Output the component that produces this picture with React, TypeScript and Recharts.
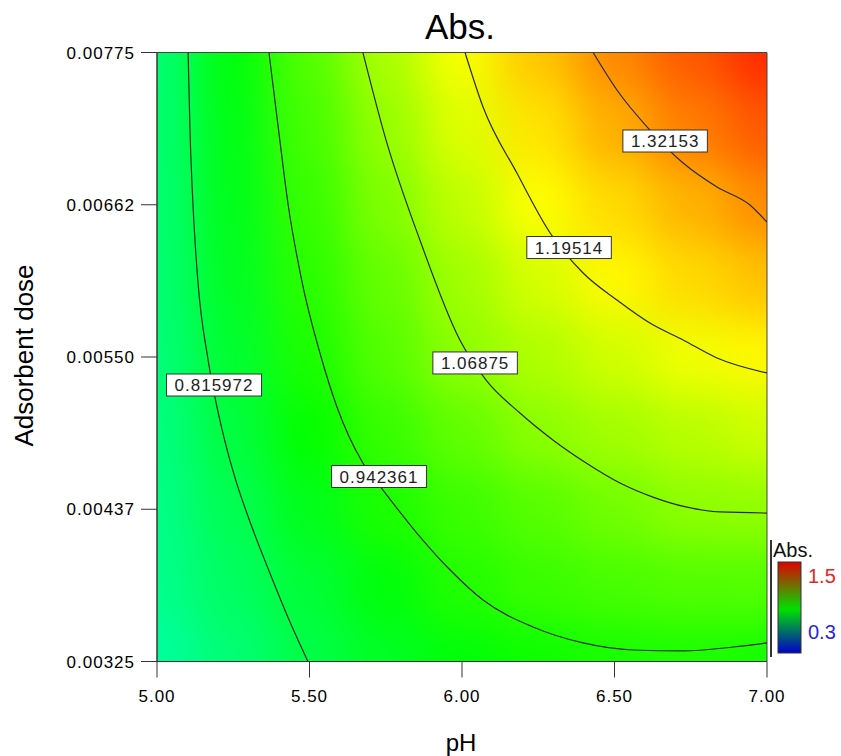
import {
  ComposedChart,
  Line,
  Scatter,
  XAxis,
  YAxis,
  ReferenceArea,
} from "recharts";

// grid nodes of the response surface
const PH_GRID = [5, 5.25, 5.5, 5.75, 6, 6.25, 6.5, 6.75, 7];
const DOSE_GRID = [0.00775, 0.0071875, 0.006625, 0.0060625, 0.0055, 0.0049375, 0.004375, 0.0038125, 0.00325];
// Abs. at each node, one row per dose (top row = highest dose)
const ABS_ROWS = [
  [0.768, 0.886, 0.998, 1.1, 1.192, 1.267, 1.339, 1.395, 1.45],
  [0.769, 0.877, 0.981, 1.075, 1.161, 1.232, 1.294, 1.352, 1.397],
  [0.768, 0.869, 0.965, 1.049, 1.126, 1.198, 1.243, 1.289, 1.335],
  [0.766, 0.859, 0.949, 1.02, 1.089, 1.151, 1.207, 1.243, 1.272],
  [0.76, 0.844, 0.93, 0.999, 1.066, 1.106, 1.145, 1.184, 1.208],
  [0.75, 0.826, 0.903, 0.965, 1.014, 1.062, 1.091, 1.116, 1.141],
  [0.742, 0.805, 0.869, 0.932, 0.969, 1.001, 1.034, 1.066, 1.072],
  [0.735, 0.786, 0.837, 0.888, 0.94, 0.966, 0.984, 0.996, 0.998],
  [0.715, 0.763, 0.816, 0.858, 0.891, 0.914, 0.927, 0.931, 0.925],
];

// contour levels and their traced paths [pH, dose]
const LEVELS = [0.815972, 0.942361, 1.06875, 1.19514, 1.32153];
const CONTOUR_1: [number, number][] = [
  [5.102, 0.00775], [5.108, 0.007188], [5.118, 0.006625], [5.134, 0.006061], [5.166, 0.0055],
  [5.19, 0.005204], [5.23, 0.004813], [5.262, 0.004562], [5.298, 0.004325], [5.37, 0.003904],
  [5.436, 0.003542], [5.495, 0.00325],
];
const CONTOUR_2: [number, number][] = [
  [5.367, 0.00775], [5.398, 0.007188], [5.43, 0.006625], [5.475, 0.006061], [5.538, 0.0055],
  [5.59, 0.005131], [5.675, 0.004717], [5.741, 0.004517], [5.852, 0.004199], [5.961, 0.003926],
  [6.069, 0.003704], [6.233, 0.003505], [6.397, 0.003387], [6.561, 0.003335], [6.725, 0.003328],
  [6.889, 0.003357], [7.0, 0.003387],
];
const CONTOUR_3: [number, number][] = [
  [5.675, 0.00775], [5.751, 0.007103], [5.862, 0.006364], [5.993, 0.005626], [6.079, 0.00533],
  [6.19, 0.005086], [6.298, 0.004887], [6.407, 0.004717], [6.518, 0.004569], [6.626, 0.004465],
  [6.734, 0.004392], [6.846, 0.004355], [7.0, 0.004347],
];
const CONTOUR_4: [number, number][] = [
  [6.01, 0.00775], [6.069, 0.007347], [6.18, 0.006859], [6.289, 0.006416], [6.397, 0.006121],
  [6.508, 0.005921], [6.616, 0.005751], [6.725, 0.005626], [6.836, 0.005493], [7.0, 0.005382],
];
const CONTOUR_5: [number, number][] = [
  [6.43, 0.00775], [6.508, 0.007473], [6.616, 0.007177], [6.725, 0.006933], [6.836, 0.006756],
  [6.944, 0.006623], [7.0, 0.006497],
];
const CONTOURS = [CONTOUR_1, CONTOUR_2, CONTOUR_3, CONTOUR_4, CONTOUR_5];

// where each level's tag sits
const TAG_PH = [5.187, 5.728, 6.043, 6.351, 6.666];
const TAG_DOSE = [0.005293, 0.004617, 0.005456, 0.006309, 0.007096];

const X_TICKS = [5, 5.5, 6, 6.5, 7];
const Y_TICKS = [0.00325, 0.004375, 0.0055, 0.006625, 0.00775];
const Y_TICK_LABELS = ["0.00325", "0.00437", "0.00550", "0.00662", "0.00775"];

const FONT = "'Liberation Sans', Arial, Helvetica, sans-serif";
const W = 833;
const H = 748;
const MARGIN = { top: 44.5, right: 74, bottom: 44.5, left: 49 };
const Y_AXIS_W = 100;
const X_AXIS_H = 50;
const PLOT_X = MARGIN.left + Y_AXIS_W;
const PLOT_Y = MARGIN.top;
const PLOT_W = W - PLOT_X - MARGIN.right;
const PLOT_H = H - MARGIN.top - MARGIN.bottom - X_AXIS_H;
const CELL_W = PLOT_W / (PH_GRID.length - 1);
const CELL_H = PLOT_H / (DOSE_GRID.length - 1);
const EDGE = 90;

// 0.3 -> blue, 0.9 -> green, 1.2 -> yellow, 1.5 -> red
function absColor(v: number) {
  const t = Math.min(1, Math.max(0, (v - 0.3) / 1.2));
  const hp = (240 * (1 - t)) / 60;
  const x = 1 - Math.abs((hp % 2) - 1);
  let r = 0, g = 0, b = 0;
  if (hp < 1) { r = 1; g = x; }
  else if (hp < 2) { r = x; g = 1; }
  else if (hp < 3) { g = 1; b = x; }
  else { g = x; b = 1; }
  const c = (n: number) => Math.round(n * 255);
  return `rgb(${c(r)},${c(g)},${c(b)})`;
}

const heatNodes = DOSE_GRID.flatMap((dose, i) =>
  PH_GRID.map((ph, j) => ({ ph, dose, v: ABS_ROWS[i][j], i, j }))
);

const contourData = CONTOURS.map((pts) => pts.map(([ph, dose]) => ({ ph, dose })));

const tags = LEVELS.map((lv, k) => ({
  ph: TAG_PH[k],
  dose: TAG_DOSE[k],
  text: String(lv),
}));

// eslint-disable-next-line @typescript-eslint/no-explicit-any
const HeatCell = (p: any) => {
  const { cx, cy, payload } = p;
  let x0 = cx - CELL_W / 2 - 0.5;
  let x1 = cx + CELL_W / 2 + 0.5;
  let y0 = cy - CELL_H / 2 - 0.5;
  let y1 = cy + CELL_H / 2 + 0.5;
  if (payload.j === 0) x0 -= EDGE;
  if (payload.j === PH_GRID.length - 1) x1 += EDGE;
  if (payload.i === 0) y0 -= EDGE;
  if (payload.i === DOSE_GRID.length - 1) y1 += EDGE;
  return <rect x={x0} y={y0} width={x1 - x0} height={y1 - y0} fill={absColor(payload.v)} />;
};

// eslint-disable-next-line @typescript-eslint/no-explicit-any
const ContourTag = (p: any) => {
  const { cx, cy, payload } = p;
  const w = payload.text.length * 10.5 + 11;
  return (
    <g>
      <rect x={cx - w / 2} y={cy - 11} width={w} height={22} fill="#fff" stroke="#333" strokeWidth={1} />
      <text
        x={cx}
        y={cy}
        dy="0.36em"
        textAnchor="middle"
        fontFamily={FONT}
        fontSize={17}
        letterSpacing={1}
        fill="#222"
      >
        {payload.text}
      </text>
    </g>
  );
};

export default function App() {
  return (
    <div style={{ padding: "8px 0 0 8px", width: W, height: H }}>
      <style>{`body{margin:0}.heat-layer{filter:url(#heatBlur);clip-path:url(#plotClip);}`}</style>
      <div style={{ position: "relative", width: W, height: H }}>
        <ComposedChart width={W} height={H} margin={MARGIN}>
          <XAxis
            type="number"
            dataKey="ph"
            domain={[5, 7]}
            allowDataOverflow
            ticks={X_TICKS}
            tickFormatter={(v: number) => v.toFixed(2)}
            height={X_AXIS_H}
            tickSize={16}
            tickMargin={12}
            stroke="#333"
            tick={{ fontSize: 17, fill: "#000", fontFamily: FONT, letterSpacing: 1 }}
          />
          <YAxis
            type="number"
            dataKey="dose"
            domain={[0.00325, 0.00775]}
            allowDataOverflow
            ticks={Y_TICKS}
            tickFormatter={(_v: number, i: number) => Y_TICK_LABELS[i]}
            width={Y_AXIS_W}
            tickSize={16}
            tickMargin={6}
            stroke="#333"
            tick={{ fontSize: 17, fill: "#000", fontFamily: FONT, letterSpacing: 1 }}
          />
          <Scatter
            className="heat-layer"
            data={heatNodes}
            dataKey="dose"
            shape={HeatCell}
            zIndex={-10}
            isAnimationActive={false}
          />
          {contourData.map((pts, k) => (
            <Line
              key={LEVELS[k]}
              data={pts}
              dataKey="dose"
              type="monotone"
              stroke="#2a2a2a"
              strokeWidth={1.2}
              dot={false}
              activeDot={false}
              isAnimationActive={false}
            />
          ))}
          <ReferenceArea
            x1={5}
            x2={7}
            y1={0.00325}
            y2={0.00775}
            fill="none"
            stroke="#444"
            strokeWidth={1}
            ifOverflow="visible"
          />
          <Scatter data={tags} dataKey="dose" shape={ContourTag} isAnimationActive={false} />
        </ComposedChart>

        <svg
          width={W}
          height={H}
          style={{ position: "absolute", left: 0, top: 0, pointerEvents: "none", overflow: "visible" }}
          fontFamily={FONT}
        >
          <defs>
            <filter
              id="heatBlur"
              filterUnits="userSpaceOnUse"
              x={0}
              y={0}
              width={W}
              height={H}
              colorInterpolationFilters="sRGB"
            >
              <feGaussianBlur stdDeviation={22} />
            </filter>
            <clipPath id="plotClip">
              <rect x={PLOT_X} y={PLOT_Y} width={PLOT_W} height={PLOT_H} />
            </clipPath>
            <linearGradient id="absScale" x1="0" y1="0" x2="0" y2="1">
              <stop offset="0%" stopColor="#e00000" />
              <stop offset="52%" stopColor="#00e000" />
              <stop offset="100%" stopColor="#0000cc" />
            </linearGradient>
          </defs>

          <text x={452} y={31} textAnchor="middle" fontSize={35} fill="#000">
            Abs.
          </text>
          <text x={453} y={743} textAnchor="middle" fontSize={24} fill="#000">
            pH
          </text>
          <text transform="translate(25,347.5) rotate(-90)" textAnchor="middle" fontSize={26} fill="#000">
            Adsorbent dose
          </text>

          {/* colour scale */}
          <line x1={763} y1={532} x2={763} y2={649} stroke="#333" strokeWidth={2} />
          <text x={765} y={549} fontSize={20} fill="#111">
            Abs.
          </text>
          <rect x={770} y={554} width={23} height={91} fill="url(#absScale)" stroke="#333" strokeWidth={1} />
          <text x={800} y={575} fontSize={20} fill="#e32626">
            1.5
          </text>
          <text x={800} y={631} fontSize={20} fill="#2626e0">
            0.3
          </text>
        </svg>
      </div>
    </div>
  );
}
